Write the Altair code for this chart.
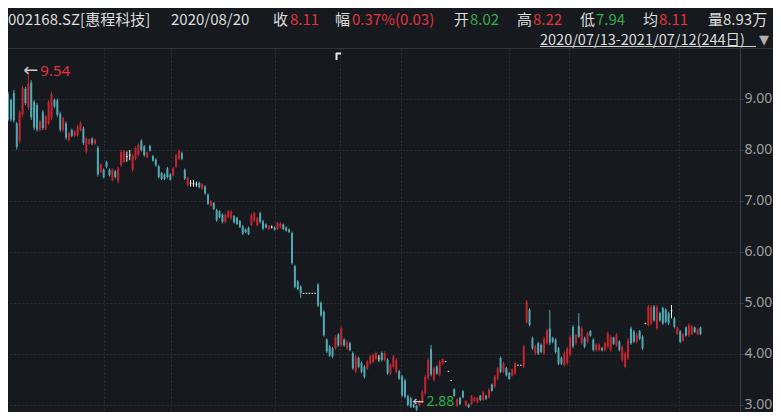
import altair as alt
import pandas as pd
import numpy as np

# ---------------- data ----------------
opens = [
    9.10, 8.98, 9.12, 8.52, 8.18, 8.70, 9.20, 8.84, 9.32, 8.94,
    8.88, 8.39, 8.74, 8.42, 8.53, 8.63, 8.98, 8.97, 8.71, 8.39,
    8.52, 8.19, 8.39, 8.28, 8.29, 8.39, 8.42, 7.97, 8.12, 8.22,
    8.12, 8.04, 7.57, 7.61, 7.76, 7.61, 7.41, 7.58, 7.39, 7.70,
    7.77, 7.87, 7.90, 7.61, 7.83, 7.90, 8.18, 8.07, 7.86, 8.08,
    7.88, 7.81, 7.68, 7.55, 7.52, 7.64, 7.52, 7.50, 7.67, 7.83,
    7.94, 7.61, 7.31, 7.35, 7.34, 7.33, 7.36, 7.24, 7.28, 7.12,
    6.91, 6.96, 6.82, 6.80, 6.73, 6.59, 6.68, 6.66, 6.70, 6.67,
    6.61, 6.50, 6.44, 6.47, 6.53, 6.62, 6.53, 6.76, 6.60, 6.54,
    6.45, 6.49, 6.48, 6.45, 6.48, 6.54, 6.48, 6.44, 6.37, 5.72,
    5.42, 5.32, 5.19, 5.19, 5.19, 5.19, 5.19, 5.36, 5.00, 4.83,
    4.28, 4.15, 4.11, 4.11, 4.38, 4.18, 4.28, 4.11, 4.21, 4.02,
    3.66, 3.92, 3.82, 3.75, 3.71, 3.81, 3.84, 3.90, 3.92, 4.02,
    3.88, 3.89, 3.62, 3.75, 3.65, 3.66, 3.56, 3.48, 3.17, 3.13,
    3.01, 2.98, 2.99, 3.06, 3.23, 3.53, 4.10, 3.50, 3.75, 3.60,
    3.81, 3.85, 3.66, 3.48, 3.31, 2.99, 3.14, 3.27, 2.99, 3.01,
    3.02, 3.08, 3.05, 3.18, 3.10, 3.18, 3.15, 3.40, 3.36, 3.52,
    3.92, 3.65, 3.72, 3.63, 3.58, 3.62, 3.78, 3.78, 3.76, 4.62,
    4.87, 4.31, 4.01, 4.21, 4.18, 4.02, 4.21, 4.50, 4.31, 4.28,
    4.11, 3.92, 3.79, 3.82, 3.99, 4.53, 4.21, 4.55, 4.22, 4.31,
    4.24, 4.45, 4.28, 4.07, 4.08, 4.12, 4.07, 4.14, 4.08, 4.32,
    4.17, 4.24, 3.88, 3.75, 3.92, 4.50, 4.44, 4.24, 4.45, 4.34,
    4.60, 4.57, 4.60, 4.93, 4.51, 4.80, 4.90, 4.87, 4.80, 4.85,
    4.70, 4.39, 4.44, 4.26, 4.52, 4.37, 4.39, 4.52, 4.39, 4.52,
]
highs = [
    9.14, 9.01, 9.18, 8.55, 8.78, 9.26, 9.24, 9.54, 9.37, 8.98,
    8.92, 8.59, 8.78, 8.69, 8.98, 9.14, 9.01, 9.01, 8.75, 8.65,
    8.56, 8.36, 8.42, 8.39, 8.49, 8.56, 8.46, 8.26, 8.23, 8.25,
    8.23, 8.08, 7.74, 7.64, 7.79, 7.64, 7.64, 7.61, 7.67, 8.00,
    8.00, 7.97, 8.00, 7.93, 8.07, 8.13, 8.21, 8.10, 7.97, 8.10,
    7.90, 7.84, 7.71, 7.57, 7.54, 7.67, 7.54, 7.67, 7.93, 8.01,
    7.97, 7.64, 7.48, 7.41, 7.41, 7.38, 7.38, 7.35, 7.31, 7.15,
    7.02, 6.98, 6.85, 6.82, 6.76, 6.76, 6.82, 6.82, 6.72, 6.69,
    6.63, 6.53, 6.46, 6.50, 6.76, 6.79, 6.69, 6.79, 6.63, 6.56,
    6.53, 6.52, 6.50, 6.59, 6.59, 6.56, 6.50, 6.46, 6.40, 5.75,
    5.45, 5.35, 5.19, 5.19, 5.19, 5.19, 5.19, 5.39, 5.03, 4.86,
    4.31, 4.18, 4.14, 4.37, 4.41, 4.54, 4.31, 4.27, 4.24, 4.05,
    3.98, 3.95, 3.85, 3.78, 3.88, 3.98, 4.01, 4.05, 3.98, 4.05,
    4.05, 3.92, 3.82, 3.98, 3.92, 3.69, 3.59, 3.52, 3.20, 3.16,
    3.03, 3.00, 3.10, 3.29, 3.59, 3.92, 4.18, 3.75, 3.78, 3.88,
    3.92, 3.85, 3.66, 3.48, 3.33, 3.13, 3.16, 3.29, 3.10, 3.03,
    3.20, 3.16, 3.16, 3.20, 3.28, 3.20, 3.33, 3.42, 3.59, 3.75,
    3.95, 3.85, 3.75, 3.65, 3.72, 3.85, 3.78, 3.78, 4.18, 5.06,
    4.90, 4.34, 4.18, 4.24, 4.21, 4.34, 4.50, 4.86, 4.34, 4.31,
    4.14, 3.95, 4.05, 4.14, 4.37, 4.57, 4.40, 4.80, 4.54, 4.34,
    4.44, 4.47, 4.31, 4.21, 4.21, 4.14, 4.24, 4.44, 4.37, 4.34,
    4.41, 4.27, 4.18, 4.05, 4.31, 4.54, 4.47, 4.41, 4.47, 4.37,
    4.60, 4.96, 4.96, 4.96, 4.96, 4.83, 4.93, 4.90, 4.83, 4.96,
    4.73, 4.54, 4.47, 4.41, 4.54, 4.60, 4.57, 4.54, 4.50, 4.54,
]
lows = [
    8.56, 8.56, 8.54, 8.01, 8.13, 8.65, 8.88, 8.78, 8.59, 8.39,
    8.36, 8.36, 8.39, 8.39, 8.49, 8.59, 8.82, 8.65, 8.36, 8.36,
    8.20, 8.16, 8.25, 8.25, 8.26, 8.36, 8.10, 7.93, 8.10, 8.10,
    8.10, 7.48, 7.54, 7.44, 7.64, 7.48, 7.38, 7.44, 7.35, 7.67,
    7.74, 7.77, 7.80, 7.57, 7.80, 7.87, 7.97, 7.87, 7.84, 7.97,
    7.77, 7.67, 7.44, 7.41, 7.41, 7.44, 7.40, 7.48, 7.64, 7.80,
    7.80, 7.41, 7.28, 7.28, 7.28, 7.28, 7.25, 7.22, 7.12, 6.92,
    6.89, 6.82, 6.59, 6.66, 6.56, 6.56, 6.66, 6.63, 6.56, 6.53,
    6.47, 6.33, 6.37, 6.33, 6.50, 6.59, 6.50, 6.56, 6.43, 6.46,
    6.43, 6.46, 6.42, 6.43, 6.46, 6.43, 6.40, 6.37, 5.75, 5.29,
    5.25, 5.10, 5.19, 5.19, 5.19, 5.19, 5.19, 4.92, 4.73, 4.34,
    4.02, 3.94, 3.92, 4.08, 4.14, 4.14, 4.14, 4.08, 4.05, 3.69,
    3.62, 3.72, 3.62, 3.52, 3.69, 3.79, 3.82, 3.88, 3.85, 3.85,
    3.85, 3.59, 3.59, 3.72, 3.62, 3.49, 3.16, 3.13, 2.97, 2.94,
    2.94, 2.88, 2.97, 3.03, 3.20, 3.49, 3.56, 3.46, 3.59, 3.56,
    3.79, 3.85, 3.66, 3.48, 3.16, 2.97, 3.00, 3.13, 2.97, 2.94,
    3.00, 3.06, 3.03, 3.08, 3.08, 3.10, 3.13, 3.26, 3.33, 3.49,
    3.62, 3.62, 3.56, 3.49, 3.56, 3.59, 3.78, 3.78, 3.72, 4.60,
    4.54, 4.08, 3.98, 3.98, 4.01, 3.98, 4.18, 4.18, 4.21, 4.01,
    3.78, 3.78, 3.75, 3.78, 3.95, 4.11, 4.18, 4.31, 4.18, 4.11,
    4.21, 4.34, 4.05, 4.05, 4.05, 4.05, 4.05, 4.11, 4.05, 4.18,
    4.14, 4.05, 3.85, 3.72, 3.88, 4.18, 4.21, 4.21, 4.27, 4.08,
    4.60, 4.54, 4.57, 4.63, 4.47, 4.63, 4.57, 4.60, 4.57, 4.70,
    4.50, 4.37, 4.21, 4.24, 4.34, 4.34, 4.37, 4.41, 4.37, 4.37,
]
closes = [
    8.60, 8.60, 8.58, 8.06, 8.74, 9.22, 8.92, 9.30, 8.64, 8.44,
    8.40, 8.56, 8.43, 8.66, 8.94, 9.10, 8.85, 8.69, 8.40, 8.62,
    8.24, 8.33, 8.28, 8.36, 8.46, 8.53, 8.14, 8.22, 8.21, 8.13,
    8.20, 7.52, 7.71, 7.47, 7.67, 7.51, 7.61, 7.47, 7.63, 7.96,
    7.97, 7.87, 7.90, 7.89, 8.04, 8.10, 8.00, 7.90, 7.95, 7.99,
    7.79, 7.70, 7.47, 7.43, 7.43, 7.47, 7.42, 7.64, 7.90, 7.98,
    7.83, 7.44, 7.45, 7.35, 7.34, 7.33, 7.27, 7.33, 7.15, 6.95,
    7.00, 6.84, 6.62, 6.68, 6.59, 6.73, 6.80, 6.79, 6.58, 6.55,
    6.49, 6.36, 6.39, 6.35, 6.72, 6.76, 6.66, 6.59, 6.46, 6.48,
    6.51, 6.49, 6.44, 6.57, 6.56, 6.45, 6.42, 6.39, 5.78, 5.32,
    5.27, 5.19, 5.19, 5.19, 5.19, 5.19, 5.19, 4.95, 4.76, 4.37,
    4.05, 3.97, 3.95, 4.33, 4.17, 4.50, 4.17, 4.24, 4.08, 3.72,
    3.94, 3.75, 3.65, 3.55, 3.85, 3.95, 3.98, 4.02, 3.92, 3.88,
    4.02, 3.62, 3.79, 3.95, 3.88, 3.52, 3.19, 3.16, 3.00, 2.97,
    2.96, 2.91, 3.08, 3.26, 3.55, 3.88, 3.60, 3.72, 3.62, 3.85,
    3.90, 3.85, 3.66, 3.48, 3.18, 3.11, 3.02, 3.15, 3.08, 2.96,
    3.17, 3.14, 3.14, 3.10, 3.25, 3.12, 3.30, 3.28, 3.56, 3.72,
    3.65, 3.82, 3.58, 3.51, 3.70, 3.82, 3.78, 3.78, 4.15, 5.02,
    4.57, 4.11, 4.15, 4.01, 4.04, 4.30, 4.46, 4.22, 4.24, 4.04,
    3.81, 3.81, 4.01, 4.10, 4.33, 4.15, 4.37, 4.34, 4.50, 4.14,
    4.41, 4.36, 4.08, 4.19, 4.18, 4.07, 4.21, 4.40, 4.33, 4.20,
    4.38, 4.08, 4.14, 4.01, 4.27, 4.21, 4.24, 4.38, 4.30, 4.11,
    4.60, 4.92, 4.92, 4.66, 4.92, 4.66, 4.60, 4.63, 4.60, 4.85,
    4.53, 4.52, 4.24, 4.39, 4.36, 4.57, 4.54, 4.43, 4.48, 4.39,
]

price_ticks = [3, 4, 5, 6, 7, 8, 9]
month_ticks = [33, 56.2, 92, 114.7, 135.5, 173, 193.7, 231.5]

stock_name = "002168.SZ[惠程科技]"
cursor_date = "2020/08/20"
quote_keys = ["收", "幅", "开", "高", "低", "均"]
quote_vals = ["8.11", "0.37%(0.03)", "8.02", "8.22", "7.94", "8.11"]
volume_text = "量8.93万"
range_text = "2020/07/13-2021/07/12(244日)"

# ---------------- styling ----------------
BG = "#16191e"
RED = "#c4262f"
TEAL = "#52a9b4"
WHITE = "#f2f2f2"
GRID = "#2c3037"
DOM = "#3a3f46"
AXC = "#9e9e9e"
TXT = "#dedede"
RED_T = "#e3333d"
GRN_T = "#2fae4b"
ARROW = "#c8c8c8"
CJK = "Noto Sans CJK SC"

n = len(opens)
df = pd.DataFrame({"i": np.arange(n), "open": opens, "high": highs,
                   "low": lows, "close": closes})
df["dir"] = np.where(df["close"] > df["open"], "up",
                     np.where(df["close"] < df["open"], "down", "flat"))

W, H = 732, 364
step = 702 / (n - 1)
xscale = alt.Scale(domain=[5 / step, 737 / step], nice=False, zero=False)
yscale = alt.Scale(domain=[2.8627, 10.0], nice=False, zero=False)

xaxis = alt.Axis(values=month_ticks, grid=True, gridColor=GRID, gridDash=[2, 2],
                 labels=False, ticks=False, domain=False, title=None)
yaxis = alt.Axis(orient="right", values=price_ticks, format=".2f", grid=True,
                 gridColor=GRID, gridDash=[2, 2], labelColor=AXC, labelFont="Noto Sans",
                 labelFontSize=14, labelPadding=1, tickSize=3, tickColor=DOM,
                 domainColor=DOM, title=None)


def X(f="i:Q"):
    return alt.X(f, scale=xscale, axis=xaxis)


def Y(f):
    return alt.Y(f, scale=yscale, axis=yaxis)


cenc = alt.Color("dir:N", scale=alt.Scale(domain=["up", "down", "flat"],
                                          range=[RED, TEAL, WHITE]), legend=None)

base = alt.Chart(df)
wick = base.mark_rule(strokeWidth=1, clip=True).encode(x=X(), y=Y("low:Q"), y2="high:Q", color=cenc)
body = base.mark_bar(width=2, clip=True).encode(x=X(), y=Y("open:Q"), y2="close:Q", color=cenc)
flat = base.transform_filter("datum.open == datum.close").mark_rule(
    strokeWidth=1, clip=True, xOffset=-0.8, x2Offset=0.8
).encode(x=X(), x2="i:Q", y=Y("open:Q"), color=cenc)

hi_row = df.loc[[df["high"].idxmax()]]
lo_row = df.loc[[df["low"].idxmin()]]

hi_arrow = alt.Chart(hi_row).mark_text(text="←", align="left", baseline="middle",
                                       font="DejaVu Sans", fontSize=18, color=ARROW, dx=-5
                                       ).encode(x=X(), y=Y("high:Q"))
hi_text = alt.Chart(hi_row).mark_text(align="left", baseline="middle", font="Noto Sans",
                                      fontSize=15, color=RED_T, dx=12).encode(
    x=X(), y=Y("high:Q"), text=alt.Text("high:Q", format=".2f"))
lo_arrow = alt.Chart(lo_row).mark_text(text="←", align="left", baseline="middle",
                                       font="DejaVu Sans", fontSize=14, color=ARROW, dx=-4, dy=-9
                                       ).encode(x=X(), y=Y("low:Q"))
lo_text = alt.Chart(lo_row).mark_text(align="left", baseline="middle", font="Noto Sans",
                                      fontSize=14, color=GRN_T, dx=10, dy=-9).encode(
    x=X(), y=Y("low:Q"), text=alt.Text("low:Q", format=".2f"))

one = pd.DataFrame({"k": [0]})


def label(text, x, y, color, size, font=CJK):
    return alt.Chart(one).mark_text(align="left", baseline="alphabetic", font=font,
                                    fontSize=size, color=color).encode(
        x=alt.value(x), y=alt.value(y), text=alt.value(text))


def hline(x1, x2, y, color, w=1):
    return alt.Chart(one).mark_rule(color=color, strokeWidth=w).encode(
        x=alt.value(x1), x2=alt.value(x2), y=alt.value(y))


def vline(x, y1, y2, color, w=1):
    return alt.Chart(one).mark_rule(color=color, strokeWidth=w).encode(
        x=alt.value(x), y=alt.value(y1), y2=alt.value(y2))


HY = -23.5   # header baseline (view coords)
FS = 15
key_x = [265, 327, 446, 509, 572, 635]
val_x = [282, 344, 462, 525, 588, 651]
val_col = [RED_T, RED_T, GRN_T, RED_T, GRN_T, RED_T]

texts = [label(stock_name, 0, HY, TXT, FS), label(cursor_date, 163, HY, TXT, FS)]
for k, kx, v, vx, vc in zip(quote_keys, key_x, quote_vals, val_x, val_col):
    texts.append(label(k, kx, HY, TXT, FS))
    texts.append(label(v, vx, HY, vc, FS))
texts.append(label(volume_text, 700, HY, TXT, FS))
texts.append(label(range_text, 532, -3.5, TXT, 14.5))
texts.append(label("▼", 751, -4.5, "#b0b0b0", 13, font="DejaVu Sans"))

deco = [
    hline(532, 748, -1.5, "#cfcfcf"),
    hline(0, 765, 0.5, "#30343b"),
    vline(328.5, 5, 12, "#e8e8e8", 2),
    hline(328, 333, 5.5, "#e8e8e8", 2),
]

chart = alt.layer(wick, body, flat, hi_arrow, hi_text, lo_arrow, lo_text,
                  *texts, *deco).properties(
    width=W, height=H,
    autosize=alt.AutoSizeParams(type="none"),
    padding={"left": 0, "top": 40, "right": 33, "bottom": 0},
).configure(background=BG).configure_view(stroke=None)

chart.save("out.html", embed_options={"renderer": "svg", "actions": False})
